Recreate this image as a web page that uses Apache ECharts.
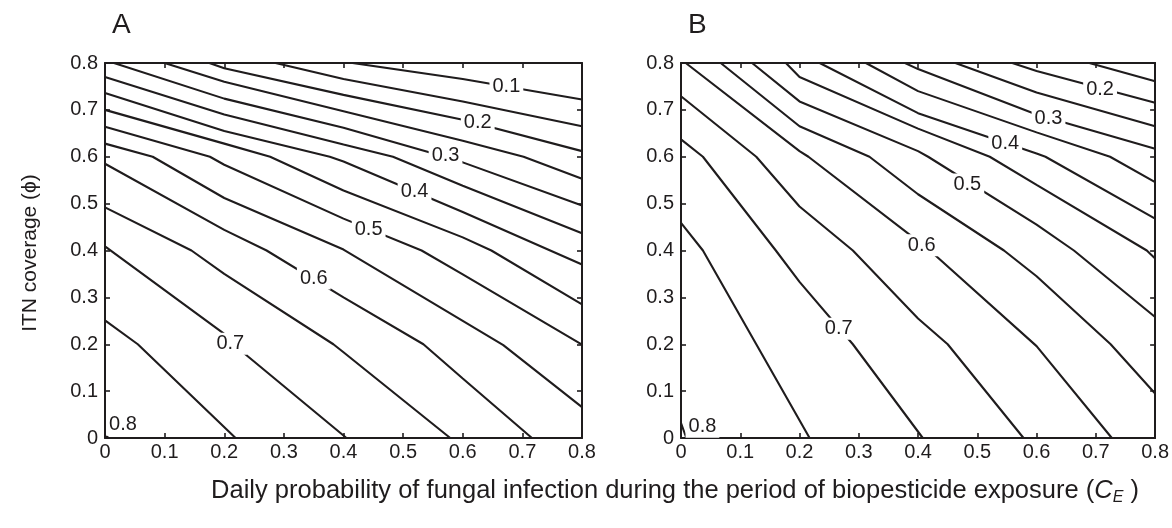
<!DOCTYPE html>
<html>
<head>
<meta charset="utf-8">
<title>Contours A / B</title>
<script src="https://cdn.jsdelivr.net/npm/echarts/dist/echarts.min.js"></script>
<style>
  html, body { margin: 0; padding: 0; background: #fff; }
  #main { width: 1172px; height: 528px; }
</style>
</head>
<body>
<div id="main"></div>
<script>
  // contour lines: [x, y] in axis units
  const contoursA = [
    { level: 0.1,  pts: [[0.415, 0.8], [0.6, 0.766], [0.8, 0.722]] },
    { level: 0.15, pts: [[0.286, 0.8], [0.4, 0.766], [0.6, 0.718], [0.8, 0.665]] },
    { level: 0.2,  pts: [[0.175, 0.8], [0.2, 0.789], [0.4, 0.732], [0.6, 0.679], [0.8, 0.612]] },
    { level: 0.25, pts: [[0.10, 0.8], [0.2, 0.76], [0.4, 0.697], [0.6, 0.634], [0.702, 0.6], [0.8, 0.553]] },
    { level: 0.3,  pts: [[0.015, 0.8], [0.2, 0.724], [0.4, 0.662], [0.57, 0.6], [0.6, 0.588], [0.8, 0.496]] },
    { level: 0.35, pts: [[0, 0.77], [0.2, 0.69], [0.4, 0.626], [0.483, 0.6], [0.6, 0.538], [0.8, 0.437]] },
    { level: 0.4,  pts: [[0, 0.736], [0.2, 0.655], [0.377, 0.6], [0.4, 0.59], [0.6, 0.482], [0.8, 0.37]] },
    { level: 0.45, pts: [[0, 0.70], [0.2, 0.628], [0.277, 0.6], [0.4, 0.528], [0.6, 0.428], [0.648, 0.4], [0.8, 0.285]] },
    { level: 0.5,  pts: [[0, 0.664], [0.176, 0.6], [0.2, 0.583], [0.4, 0.468], [0.531, 0.4], [0.6, 0.349], [0.8, 0.199]] },
    { level: 0.55, pts: [[0, 0.628], [0.08, 0.6], [0.2, 0.512], [0.4, 0.402], [0.6, 0.25], [0.668, 0.198], [0.8, 0.066]] },
    { level: 0.6,  pts: [[0, 0.585], [0.2, 0.444], [0.271, 0.4], [0.4, 0.3], [0.534, 0.2], [0.6, 0.127], [0.716, 0]] },
    { level: 0.65, pts: [[0, 0.492], [0.145, 0.4], [0.2, 0.35], [0.383, 0.2], [0.4, 0.183], [0.579, 0]] },
    { level: 0.7,  pts: [[0, 0.409], [0.2, 0.222], [0.215, 0.2], [0.405, 0]] },
    { level: 0.75, pts: [[0, 0.251], [0.055, 0.2], [0.219, 0]] },
    { level: 0.8,  pts: [[0, 0.007], [0.006, 0]] }
  ];

  const contoursB = [
    { level: 0.15, pts: [[0.689, 0.8], [0.8, 0.761]] },
    { level: 0.2,  pts: [[0.559, 0.8], [0.6, 0.783], [0.8, 0.715]] },
    { level: 0.25, pts: [[0.463, 0.8], [0.6, 0.737], [0.8, 0.665]] },
    { level: 0.3,  pts: [[0.378, 0.8], [0.4, 0.787], [0.6, 0.69], [0.8, 0.617]] },
    { level: 0.35, pts: [[0.312, 0.8], [0.4, 0.74], [0.6, 0.652], [0.724, 0.6], [0.8, 0.546]] },
    { level: 0.4,  pts: [[0.234, 0.8], [0.4, 0.693], [0.6, 0.607], [0.615, 0.6], [0.8, 0.468]] },
    { level: 0.45, pts: [[0.177, 0.8], [0.2, 0.77], [0.4, 0.66], [0.521, 0.6], [0.6, 0.54], [0.786, 0.4], [0.8, 0.383]] },
    { level: 0.5,  pts: [[0.12, 0.8], [0.2, 0.718], [0.4, 0.612], [0.417, 0.6], [0.6, 0.455], [0.663, 0.4], [0.8, 0.258]] },
    { level: 0.55, pts: [[0.067, 0.8], [0.2, 0.665], [0.318, 0.6], [0.4, 0.52], [0.545, 0.4], [0.6, 0.345], [0.725, 0.2], [0.8, 0.095]] },
    { level: 0.6,  pts: [[0.008, 0.8], [0.2, 0.612], [0.215, 0.6], [0.4, 0.42], [0.42, 0.4], [0.6, 0.196], [0.727, 0]] },
    { level: 0.65, pts: [[0, 0.729], [0.127, 0.6], [0.2, 0.494], [0.29, 0.4], [0.4, 0.255], [0.45, 0.2], [0.578, 0]] },
    { level: 0.7,  pts: [[0, 0.637], [0.037, 0.6], [0.16, 0.4], [0.2, 0.333], [0.29, 0.2], [0.408, 0]] },
    { level: 0.75, pts: [[0, 0.459], [0.037, 0.4], [0.127, 0.2], [0.217, 0]] },
    { level: 0.8,  pts: [[0, 0.032], [0.009, 0]] }
  ];

  // inline contour labels: [x, y, text]
  const labelsA = [
    [0.674, 0.749, '0.1'], [0.626, 0.672, '0.2'], [0.572, 0.601, '0.3'],
    [0.52, 0.524, '0.4'], [0.443, 0.443, '0.5'], [0.351, 0.339, '0.6'],
    [0.211, 0.2, '0.7'], [0.031, 0.027, '0.8']
  ];
  const labelsB = [
    [0.708, 0.743, '0.2'], [0.621, 0.681, '0.3'], [0.548, 0.627, '0.4'],
    [0.484, 0.54, '0.5'], [0.407, 0.41, '0.6'], [0.267, 0.232, '0.7'],
    [0.037, 0.023, '0.8']
  ];

  const panelNames = ['A', 'B'];
  const axisMin = 0;
  const axisMax = 0.8;
  const tickStep = 0.1;

  const ink = '#1f1c1d';
  const font = '"Liberation Sans", Arial, sans-serif';

  const chart = echarts.init(document.getElementById('main'));

  function axisPair(kind, gridIndex) {
    const base = {
      gridIndex: gridIndex,
      type: 'value',
      min: axisMin,
      max: axisMax,
      interval: tickStep,
      axisLine: { show: true, onZero: false, lineStyle: { color: ink, width: 2 } },
      axisTick: { show: true, inside: true, length: 5, lineStyle: { color: ink, width: 1.6 } },
      splitLine: { show: false }
    };
    const main = Object.assign({}, base, {
      position: kind === 'x' ? 'bottom' : 'left',
      axisLabel: { show: true, color: ink, fontSize: 20, fontFamily: font, margin: kind === 'x' ? 4 : 7 }
    });
    const other = Object.assign({}, base, {
      position: kind === 'x' ? 'top' : 'right',
      axisLabel: { show: false }
    });
    return [main, other];
  }

  function lineSeries(contours, axisIndex) {
    return contours.map(function (c) {
      return {
        name: 'level ' + c.level,
        type: 'line',
        xAxisIndex: axisIndex,
        yAxisIndex: axisIndex,
        data: c.pts,
        showSymbol: false,
        symbol: 'none',
        silent: true,
        z: 2,
        lineStyle: { color: ink, width: 2.1 }
      };
    });
  }

  function labelSeries(labels, axisIndex) {
    return {
      type: 'scatter',
      xAxisIndex: axisIndex,
      yAxisIndex: axisIndex,
      data: labels,
      symbolSize: 1,
      itemStyle: { color: 'rgba(0,0,0,0)' },
      silent: true,
      z: 5,
      label: {
        show: true,
        position: [0, 0],
        align: 'center',
        verticalAlign: 'middle',
        formatter: function (p) { return p.value[2]; },
        color: ink,
        opacity: 1,
        textBorderWidth: 0,
        fontSize: 20,
        fontFamily: font,
        backgroundColor: '#fff',
        padding: [1, 3]
      }
    };
  }

  const option = {
    animation: false,
    backgroundColor: '#fff',
    grid: [
      { left: 105, right: 590, top: 63, bottom: 90 },
      { left: 681, right: 14, top: 63, bottom: 90 }
    ],
    xAxis: axisPair('x', 0).concat(axisPair('x', 1)),
    yAxis: axisPair('y', 0).concat(axisPair('y', 1)),
    series: lineSeries(contoursA, 0)
      .concat([labelSeries(labelsA, 0)])
      .concat(lineSeries(contoursB, 2))
      .concat([labelSeries(labelsB, 2)]),
    graphic: [
      { type: 'text', left: 112, top: 11, style: { text: panelNames[0], fontSize: 28, fontFamily: font, fill: ink } },
      { type: 'text', left: 688, top: 11, style: { text: panelNames[1], fontSize: 28, fontFamily: font, fill: ink } },
      {
        type: 'text', x: 675, y: 491,
        style: {
          text: '{t|Daily probability of fungal infection during the period of biopesticide exposure (}{c|C}{s|E}{t| )}',
          align: 'center',
          verticalAlign: 'middle',
          fill: ink,
          rich: {
            t: { fontSize: 25.5, fontFamily: font, color: ink, lineHeight: 30 },
            c: { fontSize: 25.5, fontFamily: font, fontStyle: 'italic', color: ink, lineHeight: 30 },
            s: { fontSize: 16, fontFamily: font, fontStyle: 'italic', color: ink, lineHeight: 16, verticalAlign: 'bottom' }
          }
        }
      },
      {
        type: 'text', x: 30, y: 253, rotation: Math.PI / 2,
        style: {
          text: 'ITN coverage (\u03d5)',
          align: 'center',
          verticalAlign: 'middle',
          fontSize: 21,
          fontFamily: font,
          fill: ink
        }
      }
    ]
  };

  chart.setOption(option);
</script>
</body>
</html>
